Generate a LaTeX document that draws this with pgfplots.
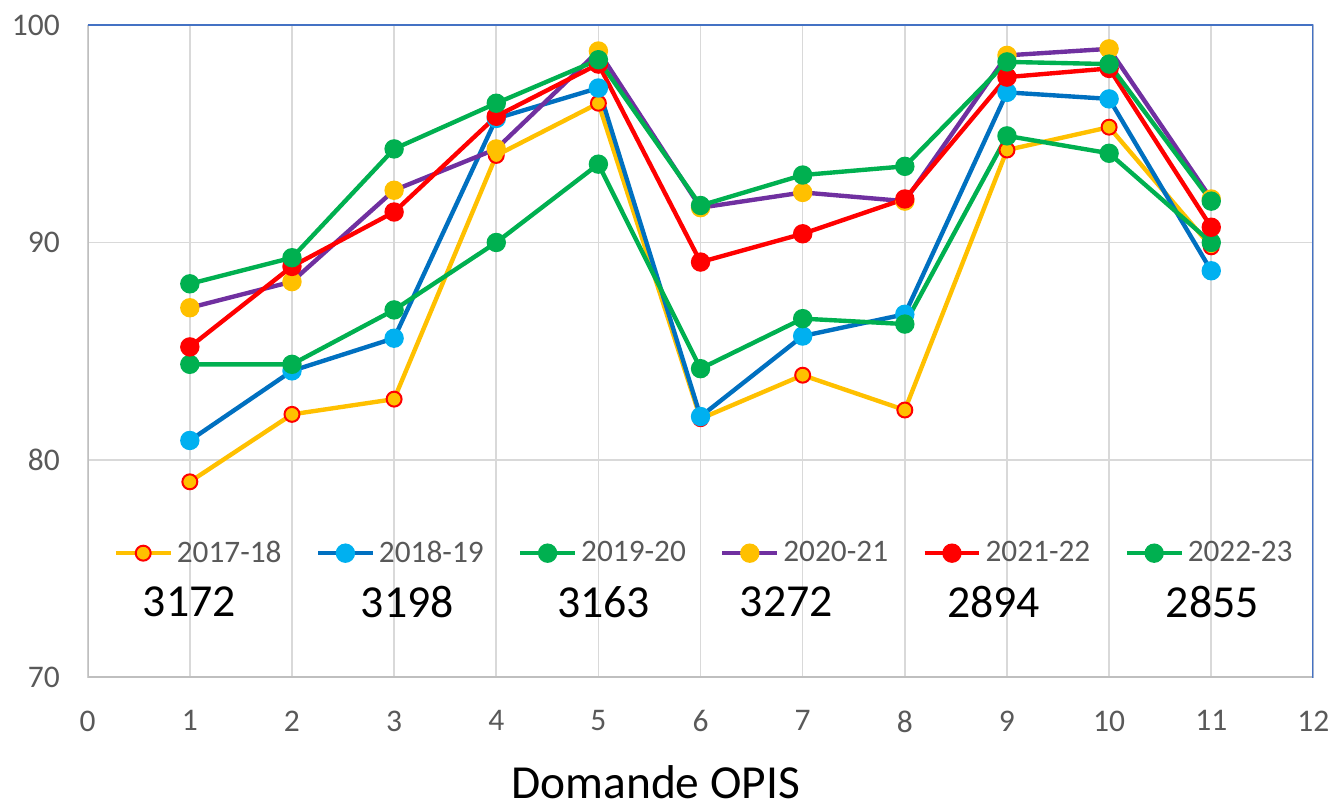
\documentclass[border=0pt]{standalone}
\usepackage{fontspec}
\setmainfont{Carlito}
\usepackage{pgfplots}
\pgfplotsset{compat=1.18}
\definecolor{cyel}{HTML}{FFC000}
\definecolor{cblue}{HTML}{0070C0}
\definecolor{clblue}{HTML}{00B0F0}
\definecolor{cgreen}{HTML}{00B050}
\definecolor{cpurp}{HTML}{7030A0}
\definecolor{cred}{HTML}{FF0000}
\definecolor{cgrid}{HTML}{D9D9D9}
\definecolor{ctext}{HTML}{595959}
\definecolor{cframe}{HTML}{4472C4}
\definecolor{caxis}{HTML}{BFBFBF}
\begin{document}
\begin{tikzpicture}
\begin{axis}[
  scale only axis,
  width=615pt, height=327.5pt,
  xmin=0, xmax=12, ymin=70, ymax=100,
  xtick={0,1,...,12}, ytick={70,80,90,100},
  grid=major,
  major grid style={draw=cgrid, line width=0.8pt},
  major tick length=0pt,
  axis line style={draw=none},
  /pgf/number format/assume math mode=true,
  tick label style={font=\fontsize{15.8}{18}\selectfont, text=ctext},
  xticklabel style={yshift=-13pt},
  yticklabel style={xshift=-10.5pt},
  xlabel={Domande OPIS},
  xlabel style={font=\fontsize{23.8}{28}\selectfont, inner sep=1pt, yshift=-12pt, xshift=-22.5pt},
  legend columns=6,
  legend style={at={(axis cs:0.25,75.72)}, anchor=west, draw=none, fill=none,
    inner xsep=0pt, inner ysep=0pt,
    font=\fontsize{15.7}{18}\selectfont, text=ctext,
    /tikz/every even column/.append style={column sep=15.2pt}},
  legend image code/.code={\draw[mark repeat=2, mark phase=2] plot coordinates {(0pt,0pt) (13.75pt,0pt) (27.5pt,0pt)};},
  every axis plot/.append style={line width=2.2pt, mark=*, mark size=3.75pt},
]
\addplot[color=cyel, mark options={fill=cyel, draw=cred, line width=1pt}] coordinates {
(1,79.0) (2,82.1) (3,82.8) (4,94.0) (5,96.4) (6,81.9) (7,83.9) (8,82.3) (9,94.25) (10,95.3) (11,89.8)};
\addlegendentry{2017-18}
\addplot[color=cblue, mark options={fill=clblue, draw=clblue}] coordinates {
(1,80.9) (2,84.1) (3,85.6) (4,95.7) (5,97.1) (6,82.0) (7,85.7) (8,86.7) (9,96.9) (10,96.6) (11,88.7)};
\addlegendentry{2018-19}
\addplot[color=cgreen, mark options={fill=cgreen, draw=cgreen}] coordinates {
(1,84.4) (2,84.4) (3,86.9) (4,90.0) (5,93.6) (6,84.2) (7,86.5) (8,86.25) (9,94.9) (10,94.1) (11,90.0)};
\addlegendentry{2019-20}
\addplot[color=cpurp, mark options={fill=cyel, draw=cyel}] coordinates {
(1,87.0) (2,88.2) (3,92.4) (4,94.3) (5,98.8) (6,91.6) (7,92.3) (8,91.9) (9,98.6) (10,98.9) (11,92.0)};
\addlegendentry{2020-21}
\addplot[color=cred, mark options={fill=cred, draw=cred}] coordinates {
(1,85.2) (2,88.9) (3,91.4) (4,95.8) (5,98.2) (6,89.1) (7,90.4) (8,92.0) (9,97.6) (10,98.0) (11,90.7)};
\addlegendentry{2021-22}
\addplot[color=cgreen, mark options={fill=cgreen, draw=cgreen}] coordinates {
(1,88.1) (2,89.3) (3,94.3) (4,96.4) (5,98.4) (6,91.7) (7,93.1) (8,93.5) (9,98.3) (10,98.2) (11,91.9)};
\addlegendentry{2022-23}
\draw[caxis, line width=1.2pt] (rel axis cs:0,1) -- (rel axis cs:0,0) -- (rel axis cs:1,0);
\draw[cframe, line width=1.3pt] (rel axis cs:0,1) -- (rel axis cs:1,1) -- (rel axis cs:1,0);
\begin{scope}[every node/.style={font=\fontsize{23}{27}\selectfont, text=black, anchor=center}]
\node at (axis cs:0.995,73.49) {3172};
\node at (axis cs:3.13,73.49) {3198};
\node at (axis cs:5.05,73.49) {3163};
\node at (axis cs:6.84,73.49) {3272};
\node at (axis cs:8.87,73.49) {2894};
\node at (axis cs:11.01,73.49) {2855};
\end{scope}
\end{axis}
\path (current axis.south west) ++(-44pt,-64.5pt) coordinate (bl);
\path (current axis.north east) ++(9pt,12.5pt) coordinate (tr);
\useasboundingbox (bl) rectangle (tr);
\end{tikzpicture}
\end{document}
